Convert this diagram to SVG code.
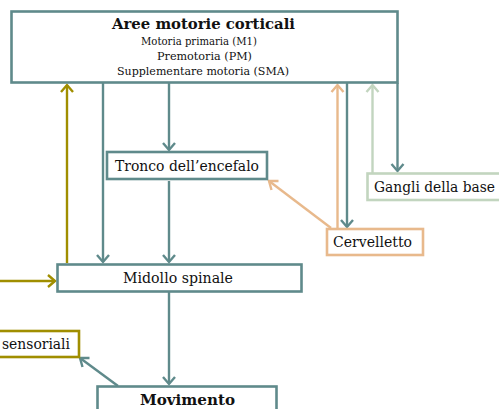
<svg xmlns="http://www.w3.org/2000/svg" width="499" height="409" viewBox="0 0 499 409">
<style>
text{font-family:"DejaVu Serif","Liberation Serif",serif;fill:#111;}
.box{fill:#fff;stroke-width:2.6;}
.teal{stroke:#5f8a8b;}
.olive{stroke:#a08e00;}
.orange{stroke:#e8b98c;}
.green{stroke:#c2d5bf;}
.lbl{font-size:14.5px;}
.t{font-size:15.5px;font-weight:bold;}
.s{font-size:11px;}
</style>
<g id="connectors" fill="none" stroke-width="2.4">
<line x1="103" y1="83" x2="103" y2="262" class="teal"/>
<path d="M97,255 L103,262 L109,255" class="teal"/>
<line x1="169" y1="83" x2="169" y2="150" class="teal"/>
<path d="M163,143 L169,150 L175,143" class="teal"/>
<line x1="169" y1="181" x2="169" y2="262" class="teal"/>
<path d="M163,255 L169,262 L175,255" class="teal"/>
<line x1="169" y1="292" x2="169" y2="384" class="teal"/>
<path d="M163,377 L169,384 L175,377" class="teal"/>
<line x1="67" y1="263" x2="67" y2="85" class="olive"/>
<path d="M61,92 L67,85 L73,92" class="olive"/>
<line x1="0" y1="281" x2="55" y2="281" class="olive"/>
<path d="M48,275 L55,281 L48,287" class="olive"/>
<line x1="347" y1="83" x2="347" y2="227" class="teal"/>
<path d="M341,220 L347,227 L353,220" class="teal"/>
<line x1="397.5" y1="83" x2="397.5" y2="171" class="teal"/>
<path d="M391.5,164 L397.5,171 L403.5,164" class="teal"/>
<line x1="337.5" y1="228" x2="337.5" y2="85" class="orange"/>
<path d="M331.5,92 L337.5,85 L343.5,92" class="orange"/>
<line x1="331" y1="228" x2="269" y2="181" class="orange"/>
<path d="M271.5,190 L269,181 L278.5,181" class="orange"/>
<line x1="372.5" y1="173" x2="372.5" y2="85" class="green"/>
<path d="M366.5,92 L372.5,85 L378.5,92" class="green"/>
<line x1="118" y1="386" x2="80" y2="358" class="teal"/>
<path d="M82.5,367 L80,358 L89.5,358" class="teal"/>
</g>
<g id="aree">
<rect x="11.5" y="11.5" width="386" height="71" class="box teal"/>
<text x="112" y="29" textLength="183" lengthAdjust="spacingAndGlyphs" class="t">Aree motorie corticali</text>
<text x="141" y="45" textLength="116" lengthAdjust="spacingAndGlyphs" class="s">Motoria primaria (M1)</text>
<text x="157" y="60" textLength="95" lengthAdjust="spacingAndGlyphs" class="s">Premotoria (PM)</text>
<text x="117" y="75" textLength="172" lengthAdjust="spacingAndGlyphs" class="s">Supplementare motoria (SMA)</text>
</g>
<g id="tronco">
<rect x="107" y="152" width="160" height="27" class="box teal"/>
<text x="115" y="171" textLength="144" lengthAdjust="spacingAndGlyphs" class="lbl">Tronco dell’encefalo</text>
</g>
<g id="gangli">
<rect x="367.5" y="173.5" width="140" height="26.5" class="box green"/>
<text x="374" y="192" textLength="121" lengthAdjust="spacingAndGlyphs" class="lbl">Gangli della base</text>
</g>
<g id="cervelletto">
<rect x="327" y="229" width="96" height="26" class="box orange"/>
<text x="333" y="247" textLength="79" lengthAdjust="spacingAndGlyphs" class="lbl">Cervelletto</text>
</g>
<g id="midollo">
<rect x="57.5" y="264.5" width="244" height="27" class="box teal"/>
<text x="123" y="283" textLength="110" lengthAdjust="spacingAndGlyphs" class="lbl">Midollo spinale</text>
</g>
<g id="sensoriali">
<rect x="-10" y="331" width="89" height="26" class="box olive"/>
<text x="2" y="349" textLength="68" lengthAdjust="spacingAndGlyphs" class="lbl">sensoriali</text>
</g>
<g id="movimento">
<rect x="97.5" y="386.5" width="179" height="40" class="box teal"/>
<text x="140" y="405" textLength="95" lengthAdjust="spacingAndGlyphs" class="t">Movimento</text>
</g>
</svg>
